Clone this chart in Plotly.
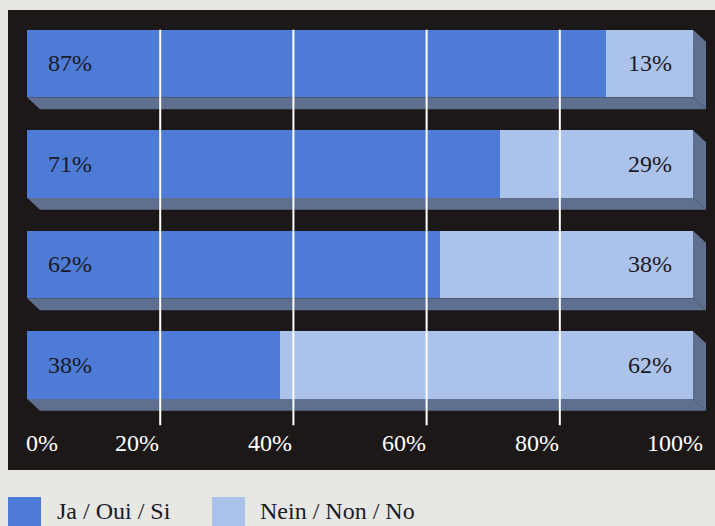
import plotly.graph_objects as go

# ---- data ----
rows = [0, 1, 2, 3]
yes_values = [87, 71, 62, 38]
no_values = [13, 29, 38, 62]
tick_values = [0, 20, 40, 60, 80, 100]
tick_labels = ["0%", "20%", "40%", "60%", "80%", "100%"]
series_names = ["Ja / Oui / Si", "Nein / Non / No"]

# ---- style ----
YES_COLOR = "#4d7bd6"
NO_COLOR = "#abc3ea"
DEPTH_COLOR = "#5f6f8f"
PANEL = "#1c1818"
PAPER = "#e7e7e3"
TEXT_DARK = "#1a1a28"
FONT = "Liberation Serif"
FS = 24

BAR_W = 0.672
DX = 1.95   # depth offset in x units
DY = 0.12   # depth offset in y units

fig = go.Figure()
fig.add_trace(go.Bar(y=rows, x=yes_values, orientation="h", width=BAR_W,
                     marker=dict(color=YES_COLOR, line=dict(width=0)),
                     name=series_names[0], hoverinfo="skip"))
fig.add_trace(go.Bar(y=rows, x=no_values, orientation="h", width=BAR_W,
                     marker=dict(color=NO_COLOR, line=dict(width=0)),
                     name=series_names[1], hoverinfo="skip"))

shapes = []
annotations = []
for r, a, b in zip(rows, yes_values, no_values):
    total = a + b
    yt = r - BAR_W / 2
    yb = r + BAR_W / 2
    # bottom depth face
    shapes.append(dict(type="path", xref="x", yref="y", layer="below",
                       path=f"M0,{yb} L{total},{yb} L{total+DX},{yb+DY} L{DX},{yb+DY} Z",
                       fillcolor=DEPTH_COLOR, line=dict(width=0)))
    # right depth face
    shapes.append(dict(type="path", xref="x", yref="y", layer="below",
                       path=f"M{total},{yt} L{total+DX},{yt+DY} L{total+DX},{yb+DY} L{total},{yb} Z",
                       fillcolor=DEPTH_COLOR, line=dict(width=0)))
    annotations.append(dict(x=0, y=r, xref="x", yref="y", text=f"{a}%",
                            xanchor="left", xshift=19, showarrow=False,
                            font=dict(family=FONT, size=FS, color=TEXT_DARK)))
    annotations.append(dict(x=total, y=r, xref="x", yref="y", text=f"{b}%",
                            xanchor="right", xshift=-19, showarrow=False,
                            font=dict(family=FONT, size=FS, color=TEXT_DARK)))

# gridlines (above bars)
for t in tick_values[1:-1]:
    shapes.append(dict(type="line", xref="x", yref="y", layer="above",
                       x0=t, x1=t, y0=rows[0] - BAR_W / 2, y1=3.6,
                       line=dict(color="white", width=2)))

# tick labels
for t, lab in zip(tick_values, tick_labels):
    if t == tick_values[0]:
        anchor, shift = "left", -3
    elif t == tick_values[-1]:
        anchor, shift = "right", 12
    else:
        anchor, shift = "right", 1
    annotations.append(dict(x=t, y=3.776, xref="x", yref="y", text=lab,
                            xanchor=anchor, xshift=shift, showarrow=False,
                            font=dict(family=FONT, size=FS, color="white")))

# custom legend
legend_items = [(series_names[0], YES_COLOR, 0.0, 0.0665),
                (series_names[1], NO_COLOR, 0.2885, 0.3536)]
for name, col, sx, tx in legend_items:
    shapes.append(dict(type="rect", xref="paper", yref="paper",
                       x0=sx, x1=sx + 0.0467, y0=-0.125, y1=-0.0587,
                       fillcolor=col, line=dict(width=0)))
    annotations.append(dict(x=tx, y=-0.0891, xref="paper", yref="paper",
                            text=name, xanchor="left", yanchor="middle",
                            showarrow=False,
                            font=dict(family=FONT, size=FS, color=TEXT_DARK)))

fig.update_layout(
    width=715, height=526,
    margin=dict(l=8, r=0, t=10, b=56),
    barmode="stack", bargap=0,
    showlegend=False,
    paper_bgcolor=PAPER, plot_bgcolor=PANEL,
    xaxis=dict(range=[-2.853, 103.3], showgrid=False, zeroline=False,
               showticklabels=False, ticks="", fixedrange=True),
    yaxis=dict(range=[4.045, -0.532], showgrid=False, zeroline=False,
               showticklabels=False, ticks="", fixedrange=True),
    shapes=shapes, annotations=annotations,
)

fig.write_html("out.html", config={"displayModeBar": False},
               post_script="document.body.style.margin='0';document.body.style.overflow='hidden';")
